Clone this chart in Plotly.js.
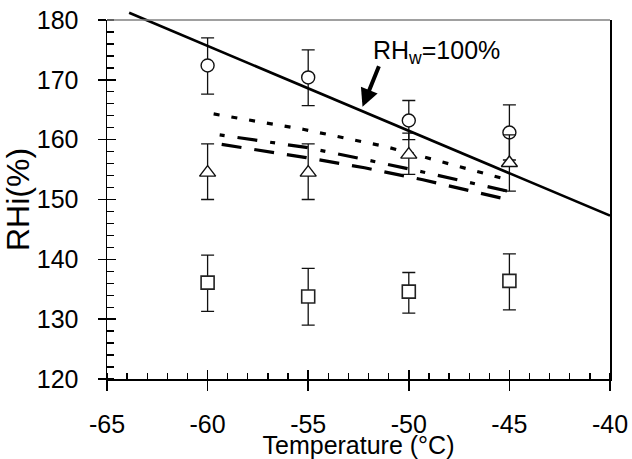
<!DOCTYPE html>
<html>
<head>
<meta charset="utf-8">
<script src="https://cdn.plot.ly/plotly-3.0.1.min.js"></script>
<style>html,body{margin:0;padding:0;background:#fff;}</style>
</head>
<body>
<div id="chart" style="width:632px;height:459px;"></div>
<script>
// ---- data ----
const temps = [-60, -55, -50, -45];

const circleRHi   = [172.4, 170.4, 163.2, 161.2];
const circlePlus  = [4.6, 4.6, 3.35, 4.6];
const circleMinus = [4.8, 4.7, 3.2, 4.6];

const triangleRHi   = [154.5, 154.5, 157.5, 156.1];
const trianglePlus  = [4.8, 4.8, 3.6, 4.7];
const triangleMinus = [4.5, 4.5, 3.3, 4.7];

const squareRHi   = [136.1, 133.8, 134.6, 136.4];
const squarePlus  = [4.6, 4.7, 3.2, 4.5];
const squareMinus = [4.8, 4.8, 3.6, 4.85];

// RHw = 100% line
const rhwT   = [-63.9, -40];
const rhwRHi = [181.2, 147.3];

// short-dash curve
const shortDashT   = [-59.7, -55.2, -51.1, -48.6, -45.2];
const shortDashRHi = [164.3, 161.7, 158.8, 156.5, 153.4];

// dash-dot curve
const dashDotT   = [-59.4, -55.1, -52.2, -49.3, -45.1];
const dashDotRHi = [160.8, 158.7, 156.7, 154.6, 151.4];

// long-dash curve
const longDashT   = [-59.3, -55.1, -52.2, -49.3, -45.1];
const longDashRHi = [159.2, 157.0, 155.3, 153.3, 150.0];

const xTickVals = [-65, -60, -55, -50, -45, -40];
const yTickVals = [120, 130, 140, 150, 160, 170, 180];

// ---- layout geometry ----
const W = 632, H = 459;
const M = {l: 107, r: 22, t: 5, b: 80};
const plotH = H - M.t - M.b;
const dTop = (plotH - 15) / plotH;        // main y domain top
const yMin = 120, yMax = 180;
const y2Max = yMin + (yMax - yMin) / dTop; // extended scale so the RHw line is not clipped at 180

const FONT = 'Liberation Sans, Arial, sans-serif';
const INK = '#000';

function errBar(plus, minus) {
  return {type: 'data', symmetric: false, array: plus, arrayminus: minus,
          color: '#111', thickness: 1.3, width: 6.5};
}

const traces = [
  {x: shortDashT, y: shortDashRHi, mode: 'lines', xaxis: 'x', yaxis: 'y',
   line: {color: INK, width: 3.2, dash: '6px,12px'}, hoverinfo: 'skip'},
  {x: dashDotT, y: dashDotRHi, mode: 'lines', xaxis: 'x', yaxis: 'y',
   line: {color: INK, width: 3.2, dash: '5px,13px,20px,13px'}, hoverinfo: 'skip'},
  {x: longDashT, y: longDashRHi, mode: 'lines', xaxis: 'x', yaxis: 'y',
   line: {color: INK, width: 3.2, dash: '20px,13px'}, hoverinfo: 'skip'},
  {x: temps, y: circleRHi, mode: 'markers', xaxis: 'x', yaxis: 'y',
   error_y: errBar(circlePlus, circleMinus),
   marker: {symbol: 'circle', size: 13, color: '#fff', line: {color: '#111', width: 1.4}}},
  {x: temps, y: triangleRHi, mode: 'markers', xaxis: 'x', yaxis: 'y',
   error_y: errBar(trianglePlus, triangleMinus),
   marker: {symbol: 'triangle-up', size: 14, color: '#fff', line: {color: '#111', width: 1.4}}},
  {x: temps, y: squareRHi, mode: 'markers', xaxis: 'x', yaxis: 'y',
   error_y: errBar(squarePlus, squareMinus),
   marker: {symbol: 'square', size: 13, color: '#fff', line: {color: '#222', width: 1.6}}},
  {x: rhwT, y: rhwRHi, mode: 'lines', xaxis: 'x', yaxis: 'y2',
   line: {color: INK, width: 2.6}, hoverinfo: 'skip'},
  // empty trace so that the tick-only overlay axes get drawn
  {x: [], y: [], mode: 'markers', xaxis: 'x2', yaxis: 'y3', hoverinfo: 'skip'}
];

const tickFont = {family: FONT, size: 25, color: INK};

const layout = {
  width: W, height: H, margin: M,
  paper_bgcolor: '#fff', plot_bgcolor: 'rgba(0,0,0,0)',
  showlegend: false,
  font: {family: FONT, color: INK},
  xaxis: {
    range: [-65, -40], tickvals: xTickVals, ticktext: xTickVals.map(String),
    anchor: 'y', showgrid: false, zeroline: false,
    showline: true, linecolor: INK, linewidth: 1.5,
    ticks: 'outside', ticklen: 10, tickwidth: 1.5, tickcolor: INK,
    minor: {dtick: 1, tick0: -65, ticks: 'inside', ticklen: 6, tickwidth: 1.3, tickcolor: INK, showgrid: false},
    tickfont: tickFont, ticklabelstandoff: 12,
    title: {text: 'Temperature (°C)', font: {family: FONT, size: 25, color: INK}, standoff: 6}
  },
  xaxis2: {
    range: [-65, -40], overlaying: 'x', anchor: 'y', side: 'bottom',
    tickvals: xTickVals, showticklabels: false, showgrid: false, zeroline: false, showline: false,
    ticks: 'inside', ticklen: 9, tickwidth: 1.5, tickcolor: INK
  },
  yaxis: {
    range: [yMin, yMax], domain: [0, dTop], anchor: 'x',
    tickvals: yTickVals, ticktext: yTickVals.map(String),
    showgrid: false, zeroline: false,
    showline: true, linecolor: INK, linewidth: 1.5, mirror: true,
    ticks: 'outside', ticklen: 8, tickwidth: 1.5, tickcolor: INK,
    minor: {dtick: 2, tick0: 120, ticks: 'inside', ticklen: 7, tickwidth: 1.3, tickcolor: INK, showgrid: false},
    tickfont: tickFont, ticklabelstandoff: 14,
    title: {text: 'RHi(%)', font: {family: FONT, size: 32, color: INK}, standoff: 0}
  },
  yaxis2: {
    range: [yMin, y2Max], domain: [0, 1], anchor: 'x', visible: false
  },
  yaxis3: {
    range: [yMin, yMax], overlaying: 'y', anchor: 'x', side: 'left',
    tickvals: yTickVals, showticklabels: false, showgrid: false, zeroline: false, showline: false,
    ticks: 'inside', ticklen: 9, tickwidth: 1.5, tickcolor: INK
  },
  shapes: [
    {type: 'line', xref: 'x domain', yref: 'y domain', x0: 0, x1: 1, y0: 1, y1: 1,
     line: {color: '#808080', width: 1.5}}
  ],
  annotations: [
    {x: -48.6, y: 174.7, xref: 'x', yref: 'y', text: 'RH<sub>w</sub>=100%', showarrow: false,
     xanchor: 'center', yanchor: 'middle', font: {family: FONT, size: 25, color: INK}},
    {x: -52.3, y: 165.5, xref: 'x', yref: 'y', text: '', showarrow: true,
     ax: 17, ay: -42, arrowhead: 2, arrowsize: 0.9, arrowwidth: 4, arrowcolor: INK}
  ]
};

Plotly.newPlot('chart', traces, layout, {displayModeBar: false, staticPlot: true});
</script>
</body>
</html>
